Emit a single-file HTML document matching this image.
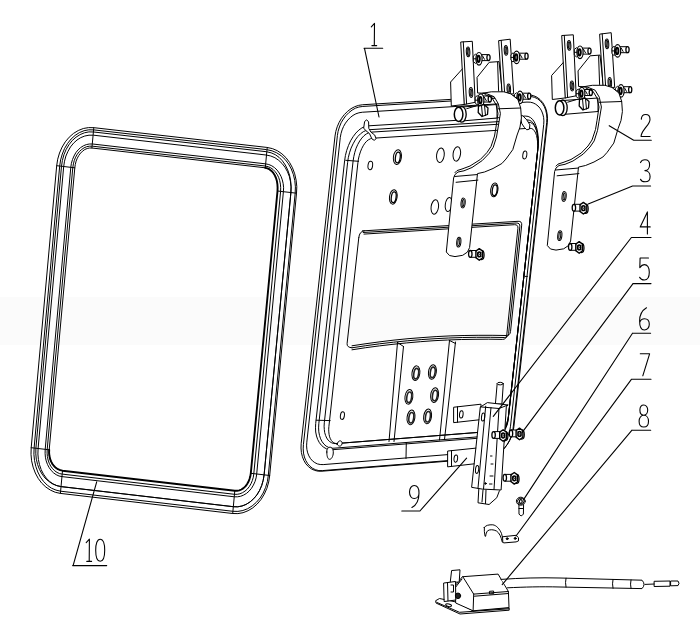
<!DOCTYPE html>
<html><head><meta charset="utf-8"><style>
html,body{margin:0;padding:0;background:#fff;}
body{width:700px;height:642px;overflow:hidden;position:relative;}
svg{position:absolute;left:0;top:0;}
</style></head><body>
<svg width="700" height="642" viewBox="0 0 700 642">
<rect x="0" y="297" width="700" height="48" fill="#fbfbfb"/>
<g fill="none" stroke="#000" stroke-width="1" stroke-linejoin="round" stroke-linecap="round">
<g id="f10"><path d="M267.2,147.5 L272.4,148.6 L277.3,150.7 L281.9,153.8 L286.0,157.7 L289.6,162.5 L292.5,167.9 L294.7,173.8 L296.1,180.1 L296.8,186.6 L296.5,193.2 L269.7,475.5 L268.7,482.0 L266.9,488.3 L264.3,494.1 L261.1,499.4 L257.2,504.0 L252.9,507.8 L248.1,510.7 L243.1,512.7 L237.9,513.6 L232.7,513.5 L60.4,493.4 L55.3,492.3 L50.4,490.1 L45.9,487.1 L41.7,483.1 L38.2,478.4 L35.3,473.0 L33.1,467.1 L31.6,460.8 L31.0,454.3 L31.2,447.7 L56.7,165.7 L57.7,159.2 L59.5,153.0 L62.1,147.1 L65.3,141.8 L69.2,137.2 L73.5,133.4 L78.3,130.5 L83.3,128.5 L88.5,127.6 L93.8,127.7Z" />
<path d="M267.0,149.7 L272.0,150.8 L276.7,152.8 L281.1,155.7 L285.1,159.4 L288.5,163.9 L291.3,169.0 L293.4,174.6 L294.8,180.6 L295.4,186.8 L295.2,193.0 L268.3,475.4 L267.4,481.5 L265.6,487.4 L263.2,493.0 L260.1,498.0 L256.4,502.3 L252.2,505.9 L247.7,508.7 L242.9,510.5 L237.9,511.4 L232.9,511.3 L60.6,491.2 L56.0,490.1 L51.5,488.2 L47.4,485.3 L43.6,481.5 L40.4,477.1 L37.8,472.0 L35.8,466.4 L34.5,460.4 L33.9,454.3 L34.1,448.0 L59.7,166.0 L60.6,159.9 L62.3,154.0 L64.6,148.4 L67.6,143.4 L71.1,139.0 L75.1,135.4 L79.4,132.6 L84.1,130.7 L88.8,129.8 L93.6,129.9Z" />
<path d="M266.8,151.8 L271.1,152.8 L275.2,154.6 L279.0,157.3 L282.4,160.8 L285.3,165.0 L287.7,169.9 L289.5,175.1 L290.6,180.8 L291.1,186.6 L290.9,192.5 L264.1,474.9 L263.2,480.3 L261.7,485.5 L259.6,490.4 L256.9,494.9 L253.7,498.7 L250.1,501.9 L246.1,504.4 L242.0,506.0 L237.7,506.8 L233.3,506.7 L61.1,486.6 L56.7,485.6 L52.5,483.9 L48.6,481.3 L45.0,478.0 L42.0,474.0 L39.5,469.5 L37.6,464.5 L36.3,459.2 L35.8,453.8 L35.9,448.2 L61.5,166.2 L62.4,160.4 L63.9,154.8 L66.1,149.5 L68.9,144.8 L72.2,140.6 L76.0,137.2 L80.1,134.6 L84.4,132.8 L88.9,131.9 L93.4,132.0Z" />
<path d="M266.5,155.1 L270.8,156.0 L274.9,157.7 L278.7,160.3 L282.1,163.5 L285.1,167.4 L287.5,171.8 L289.4,176.6 L290.5,181.8 L291.1,187.1 L290.9,192.5 L264.1,474.9 L263.2,480.3 L261.7,485.5 L259.6,490.4 L256.9,494.9 L253.7,498.7 L250.1,501.9 L246.1,504.4 L242.0,506.0 L237.7,506.8 L233.3,506.7 L61.1,486.6 L57.0,485.7 L53.1,483.9 L49.5,481.4 L46.3,478.1 L43.5,474.2 L41.2,469.7 L39.5,464.7 L38.4,459.5 L37.9,454.0 L38.1,448.5 L63.7,166.5 L64.5,161.2 L65.9,156.0 L68.0,151.3 L70.5,146.9 L73.6,143.1 L77.0,140.0 L80.8,137.6 L84.8,136.0 L89.0,135.2 L93.1,135.2Z" />
<path d="M265.7,163.9 L268.8,164.5 L271.8,165.8 L274.6,167.7 L277.1,170.1 L279.2,173.0 L281.0,176.3 L282.3,179.9 L283.2,183.7 L283.6,187.7 L283.4,191.7 L256.7,474.0 L256.1,477.9 L255.0,481.6 L253.4,485.1 L251.5,488.3 L249.1,491.1 L246.5,493.4 L243.6,495.1 L240.6,496.3 L237.4,496.8 L234.3,496.8 L62.0,476.6 L59.0,476.0 L56.2,474.7 L53.6,472.9 L51.2,470.5 L49.2,467.7 L47.5,464.5 L46.2,460.9 L45.4,457.2 L45.1,453.3 L45.2,449.3 L70.8,167.3 L71.4,163.3 L72.5,159.5 L74.0,156.0 L75.8,152.7 L78.1,149.9 L80.6,147.6 L83.4,145.8 L86.3,144.6 L89.3,144.0 L92.3,144.0Z" />
<path d="M265.5,166.1 L268.2,166.7 L270.7,167.8 L273.1,169.5 L275.2,171.7 L277.1,174.3 L278.6,177.3 L279.7,180.6 L280.4,184.1 L280.7,187.7 L280.6,191.4 L253.8,473.7 L253.3,477.2 L252.3,480.6 L251.0,483.7 L249.3,486.6 L247.3,489.1 L245.0,491.1 L242.5,492.7 L239.9,493.8 L237.2,494.3 L234.5,494.3 L62.2,474.1 L59.6,473.6 L57.0,472.4 L54.7,470.8 L52.6,468.7 L50.7,466.1 L49.2,463.2 L48.1,460.0 L47.4,456.6 L47.1,453.1 L47.2,449.5 L72.8,167.5 L73.4,163.9 L74.3,160.4 L75.6,157.2 L77.3,154.2 L79.3,151.6 L81.6,149.5 L84.1,147.8 L86.7,146.7 L89.4,146.2 L92.1,146.2Z" />
<path d="M62.5,470.7 L60.2,470.1 L57.9,469.2 L55.8,467.8 L54.0,466.0 L52.3,463.8 L51.0,461.4 L50.0,458.6 L49.4,455.8 L49.1,452.8 L49.2,449.8 L74.8,167.8 L75.3,164.4 L76.1,161.2 L77.3,158.2 L78.8,155.5 L80.6,153.1 L82.6,151.1 L84.8,149.5 L87.2,148.5 L89.5,148.0 L91.9,148.0 L265.3,167.8" />
<path d="M265.3,167.8 L267.5,168.4 L269.6,169.4 L271.5,170.9 L273.3,172.9 L274.8,175.3 L276.0,178.0 L276.9,181.1 L277.4,184.3 L277.6,187.6 L277.5,191.0 L250.8,473.3 L250.3,476.3 L249.5,479.1 L248.4,481.8 L247.0,484.2 L245.4,486.4 L243.5,488.1 L241.4,489.5 L239.3,490.4 L237.1,490.8 L234.8,490.8 L62.5,470.7 L60.2,470.1 L57.9,469.2 L55.8,467.8 L54.0,466.0 L52.3,463.8 L51.0,461.4 L50.0,458.6 L49.4,455.8 L49.1,452.8 L49.2,449.8" stroke-width="1.9"/>
<path d="M93.8,127.7 L91.9,148.0" />
<path d="M267.2,147.5 L265.3,167.8" />
<path d="M60.4,493.4 L62.5,470.7" />
<path d="M232.7,513.5 L234.8,490.8" />
<path d="M56.7,165.7 L74.8,167.8" />
<path d="M31.2,447.7 L49.2,449.8" />
<path d="M296.5,193.2 L277.5,191.0" />
<path d="M269.7,475.5 L250.8,473.3" /></g>
<g id="p1"><path d="M526.6,94.8 L530.3,94.9 L533.8,95.8 L537.1,97.3 L540.0,99.5 L542.6,102.4 L544.6,105.7 L546.2,109.6 L547.1,113.7 L547.5,118.2 L547.3,122.8 L513.9,426.7 L513.1,431.3 L511.7,435.9 L509.8,440.3 L507.4,444.4 L504.5,448.1 L501.3,451.3 L497.9,454.0 L494.2,456.0 L490.4,457.4 L486.6,458.1 L322.0,471.2 L318.2,471.2 L314.7,470.4 L311.4,468.9 L308.5,466.7 L305.9,463.9 L303.9,460.5 L302.4,456.7 L301.4,452.5 L301.0,448.0 L301.2,443.3 L335.0,136.1 L335.8,131.4 L337.2,126.8 L339.1,122.4 L341.5,118.3 L344.4,114.5 L347.6,111.3 L351.0,108.7 L354.7,106.7 L358.5,105.4 L362.3,104.8Z" />
<path d="M527.8,96.3 L531.2,96.5 L534.4,97.3 L537.4,98.7 L540.1,100.8 L542.4,103.5 L544.3,106.6 L545.7,110.2 L546.6,114.1 L546.9,118.2 L546.7,122.5 L513.1,428.1 L512.4,432.4 L511.1,436.7 L509.3,440.8 L507.1,444.6 L504.5,448.1 L501.6,451.1 L498.4,453.6 L495.0,455.5 L491.6,456.8 L488.1,457.4 L322.3,470.6 L318.9,470.6 L315.7,469.8 L312.7,468.4 L310.0,466.3 L307.7,463.7 L305.8,460.6 L304.4,457.0 L303.5,453.1 L303.2,448.9 L303.4,444.6 L337.4,135.6 L338.1,131.3 L339.4,127.0 L341.1,122.8 L343.4,119.0 L346.0,115.5 L348.9,112.6 L352.1,110.1 L355.4,108.2 L358.9,107.0 L362.4,106.5Z" />
<path d="M527.4,102.1 L530.3,102.2 L533.1,102.9 L535.7,104.2 L538.0,106.0 L540.0,108.2 L541.6,110.9 L542.8,114.0 L543.6,117.3 L543.9,120.9 L543.7,124.6 L510.5,426.2 L509.9,429.9 L508.8,433.6 L507.3,437.1 L505.4,440.4 L503.1,443.4 L500.6,446.0 L497.9,448.1 L494.9,449.7 L491.9,450.8 L488.9,451.3 L323.2,464.6 L320.2,464.5 L317.4,463.9 L314.8,462.6 L312.5,460.9 L310.5,458.6 L308.9,455.9 L307.7,452.9 L306.9,449.5 L306.6,445.9 L306.8,442.2 L340.3,137.3 L341.0,133.6 L342.1,129.9 L343.6,126.4 L345.5,123.1 L347.8,120.1 L350.3,117.5 L353.0,115.4 L355.9,113.8 L358.9,112.8 L361.9,112.3Z" />
<path d="M525.6,116.1 L528.1,116.4 L530.4,117.5 L532.5,119.3 L534.3,121.9 L535.8,125.2 L537.0,129.1 L537.8,133.5 L538.3,138.3 L538.3,143.4 L537.9,148.6 L508.0,420.3 L507.6,422.8 L507.0,425.2 L506.1,427.5 L505.1,429.7 L503.9,431.7 L502.5,433.3 L501.0,434.7 L499.5,435.8 L497.9,436.5 L496.3,436.8 L332.7,449.7 L329.6,449.6 L326.6,448.9 L323.9,447.4 L321.5,445.4 L319.4,442.7 L317.7,439.5 L316.5,436.0 L315.7,432.0 L315.5,427.8 L315.7,423.5 L344.6,160.9 L345.4,155.6 L346.7,150.4 L348.5,145.4 L350.6,140.8 L353.1,136.7 L355.8,133.1 L358.8,130.1 L361.9,127.9 L365.1,126.5 L368.3,125.9Z" />
<path d="M527.2,119.9 L529.3,120.2 L531.3,121.2 L533.2,123.0 L534.7,125.4 L536.1,128.5 L537.1,132.2 L537.7,136.3 L538.1,140.9 L538.1,145.6 L537.7,150.5 L508.2,418.9 L507.8,421.4 L507.2,423.8 L506.3,426.1 L505.2,428.3 L504.0,430.3 L502.7,432.0 L501.2,433.4 L499.6,434.4 L498.0,435.1 L496.4,435.4 L334.0,448.2 L331.2,448.2 L328.6,447.4 L326.1,446.1 L324.0,444.2 L322.1,441.7 L320.6,438.8 L319.5,435.4 L318.8,431.8 L318.6,427.9 L318.8,423.8 L347.6,162.7 L348.3,157.7 L349.5,152.8 L351.1,148.1 L353.1,143.8 L355.3,139.9 L357.8,136.5 L360.5,133.8 L363.3,131.7 L366.2,130.4 L369.0,129.8Z" />
<path d="M528.9,122.4 L530.7,122.6 L532.4,123.6 L534.0,125.3 L535.3,127.6 L536.4,130.5 L537.3,133.9 L537.8,137.8 L538.0,142.0 L538.0,146.5 L537.6,151.1 L508.5,416.4 L508.1,418.5 L507.5,420.7 L506.7,422.7 L505.7,424.6 L504.5,426.3 L503.1,427.8 L501.6,429.1 L500.1,430.0 L498.5,430.6 L496.9,430.9 L335.9,443.6 L333.7,443.5 L331.7,442.8 L329.8,441.7 L328.1,440.1 L326.7,438.0 L325.6,435.5 L324.7,432.6 L324.3,429.5 L324.1,426.2 L324.3,422.8 L353.1,161.0 L353.8,156.6 L354.8,152.3 L356.1,148.2 L357.8,144.4 L359.7,141.0 L361.8,138.1 L364.0,135.7 L366.4,133.9 L368.8,132.7 L371.1,132.2Z" />
<path d="M530.2,128.3 L531.8,128.6 L533.2,129.4 L534.4,130.9 L535.6,132.9 L536.5,135.4 L537.1,138.4 L537.6,141.8 L537.8,145.4 L537.7,149.3 L537.4,153.3 L508.2,418.3 L507.9,420.2 L507.4,422.0 L506.8,423.8 L505.9,425.4 L505.0,426.9 L503.9,428.1 L502.7,429.2 L501.5,430.0 L500.2,430.5 L498.9,430.8 L336.9,443.5 L335.4,443.4 L333.9,442.9 L332.6,441.9 L331.4,440.5 L330.4,438.8 L329.6,436.8 L329.1,434.4 L328.8,431.9 L328.7,429.2 L328.9,426.4 L357.9,162.8 L358.4,159.1 L359.3,155.4 L360.4,151.9 L361.7,148.7 L363.2,145.8 L364.9,143.2 L366.7,141.2 L368.6,139.7 L370.6,138.7 L372.5,138.3Z" />
<path d="M345.7,160.3 L358.6,161.3" />
<path d="M316.2,420.2 L330.2,420.6" />
<path d="M326.8,452 C326.5,448.5 328.5,446.8 330.8,447.3 C333,448 333.6,451 333.2,454 C332.6,457.5 331,459.6 329.3,459.3 C327.5,459 326.8,455.5 326.8,452 Z" fill="#fff"/>
<path d="M337.2,444.5 C337.4,442 339,440.6 340.6,440.9 C342.2,441.3 342.5,443.3 341.6,445 C340.8,446.4 338.6,446.8 337.2,444.5 Z" fill="#fff"/></g>
<g id="win"><path d="M362.4,230.9L518.1,221.3Q522.1,221.1 521.7,225.1L510.5,331.6Q510.1,335.6 506.1,335.5L492.1,335.3 L478.1,335.3 L464.1,335.5 L450.1,335.9 L436.1,336.6 L422.0,337.6 L408.0,338.7 L394.0,340.1 L380.0,341.8 L366.0,343.7 L352.0,345.8" />
<path d="M363.2,232.5L516.2,223.0Q520.2,222.8 519.8,226.8L508.6,333.6Q508.2,337.6 504.2,337.5L490.4,337.3 L476.5,337.3 L462.7,337.5 L448.8,338.0 L435.0,338.7 L421.2,339.6 L407.3,340.8 L393.5,342.2 L379.7,343.8 L365.8,345.7 L352.0,347.8" />
<path d="M364.0,234.1L514.4,224.7Q518.4,224.5 517.9,228.5L506.7,335.5Q506.3,339.5 502.3,339.4L488.6,339.2 L475.0,339.3 L461.3,339.5 L447.6,340.0 L434.0,340.7 L420.3,341.7 L406.7,342.9 L393.0,344.3 L379.3,345.9 L365.7,347.7 L352.0,349.8" />
<path d="M358.8,237.6 Q359.3,231.2 364.4,230.8 M358.8,237.6 L347.1,343.5 Q346.7,347.5 352,347.8" /></g>
<path d="M525.2,276.4 L527.4,276.4" />
<g id="chan"><path d="M397.5,342.5 L389,441.5 M403.5,346.5 L394,441.5 M397.5,342.5 L403.5,346.5" />
<path d="M449.5,340.5 L439.5,440 M455.5,342 L444.5,439.5 M449.5,340.5 L455.5,343.5" />
<path d="M406.3,443 L406,458.5" />
<ellipse cx="415.9" cy="373.2" rx="3.9" ry="7.4" transform="rotate(8 415.9 373.2)" />
<ellipse cx="416.2" cy="373.59999999999997" rx="2.4" ry="5.3" transform="rotate(8 416.2 373.59999999999997)" stroke-width="1.6" stroke="#222"/>
<ellipse cx="432.4" cy="372" rx="3.9" ry="7.4" transform="rotate(8 432.4 372)" />
<ellipse cx="432.7" cy="372.4" rx="2.4" ry="5.3" transform="rotate(8 432.7 372.4)" stroke-width="1.6" stroke="#222"/>
<ellipse cx="408.9" cy="396.8" rx="3.9" ry="7.4" transform="rotate(8 408.9 396.8)" />
<ellipse cx="409.2" cy="397.2" rx="2.4" ry="5.3" transform="rotate(8 409.2 397.2)" stroke-width="1.6" stroke="#222"/>
<ellipse cx="434.6" cy="395.1" rx="3.9" ry="7.4" transform="rotate(8 434.6 395.1)" />
<ellipse cx="434.90000000000003" cy="395.5" rx="2.4" ry="5.3" transform="rotate(8 434.90000000000003 395.5)" stroke-width="1.6" stroke="#222"/>
<ellipse cx="411" cy="417.4" rx="3.9" ry="7.4" transform="rotate(8 411 417.4)" />
<ellipse cx="411.3" cy="417.79999999999995" rx="2.4" ry="5.3" transform="rotate(8 411.3 417.79999999999995)" stroke-width="1.6" stroke="#222"/>
<ellipse cx="427.6" cy="416.4" rx="3.9" ry="7.4" transform="rotate(8 427.6 416.4)" />
<ellipse cx="427.90000000000003" cy="416.79999999999995" rx="2.4" ry="5.3" transform="rotate(8 427.90000000000003 416.79999999999995)" stroke-width="1.6" stroke="#222"/></g>
<g id="holes"><ellipse cx="370.3" cy="165.5" rx="2.3" ry="4.2" transform="rotate(8 370.3 165.5)" />
<ellipse cx="397.4" cy="157.1" rx="4" ry="7.4" transform="rotate(8 397.4 157.1)" />
<ellipse cx="397.79999999999995" cy="157.5" rx="2.4" ry="5.4" transform="rotate(8 397.79999999999995 157.5)" stroke-width="1.3"/>
<ellipse cx="440.4" cy="155.2" rx="3.8" ry="7.3" transform="rotate(8 440.4 155.2)" />
<ellipse cx="456.8" cy="153.9" rx="3.7" ry="7.3" transform="rotate(8 456.8 153.9)" />
<ellipse cx="393.3" cy="196.9" rx="3.8" ry="7.3" transform="rotate(8 393.3 196.9)" />
<ellipse cx="393.7" cy="197.3" rx="2.4" ry="5.4" transform="rotate(8 393.7 197.3)" stroke-width="1.3"/>
<ellipse cx="434.8" cy="207" rx="3.7" ry="7.2" transform="rotate(8 434.8 207)" />
<ellipse cx="494.3" cy="189.9" rx="3.6" ry="7" transform="rotate(8 494.3 189.9)" />
<ellipse cx="494.7" cy="190.3" rx="2.4" ry="5.4" transform="rotate(8 494.7 190.3)" stroke-width="1.3"/>
<ellipse cx="524.8" cy="155" rx="2" ry="4" transform="rotate(8 524.8 155)" />
<ellipse cx="342.4" cy="415.6" rx="2" ry="3.8" transform="rotate(8 342.4 415.6)" />
<ellipse cx="448.6" cy="204.5" rx="3.3" ry="7.1" transform="rotate(8 448.6 204.5)" /></g>
<g id="hooks"><path d="M363.9,126.5 L364.6,121.5 L366.7,119.8 L368.6,121.9 L368.8,128.4 L370.9,132.1 L374.7,135.0 L376.1,138.7 L374.2,140.3 L371.9,138.9 L369.5,133.6 L365.8,130.6 L363.9,128.4Z" fill="#fff"/>
<path d="M519.9,116.1 L521.8,123.6 L524.3,127.4 L526.8,129.8 L529.3,129.2 L529.9,124.9 L526.8,119.9 L523.1,116.1Z" fill="#fff"/></g>
<g id="hinge"><path d="M463.2,68.0 L450.6,82.0 L451.3,106.0 L464.6,104.4Z" fill="#fff"/>
<path d="M477.3,77.1 L489.2,62.3 L499.0,61.6 L502.5,93.9 L478.0,93.0Z" fill="#fff"/>
<path d="M497.6,62.3 L498.6,91" />
<path d="M459.4,107.2 L497.0,104.5 L497.0,118.0 L459.4,121.2Z" fill="#fff"/>
<ellipse cx="461.8" cy="114.3" rx="4.4" ry="7.8" fill="#fff" stroke-width="1.3"/>
<ellipse cx="458.6" cy="114.3" rx="4.3" ry="7.1" fill="#fff" stroke-width="1.5"/>
<path d="M466.7,108.7 L475.9,105.9" />
<path d="M461.1,42.0 L472.3,41.3 L475.2,102.3 L464.6,104.4Z" fill="#fff"/>
<path d="M463.3,41.9 L466.6,104" />
<path d="M499.0,40.6 L510.2,39.2 L513.7,93.9 L502.5,93.9Z" fill="#fff"/>
<path d="M501.2,40.4 L504.7,93.9" />
<ellipse cx="468.1" cy="51.8" rx="1.8" ry="4.9" transform="rotate(-3 468.1 51.8)" />
<ellipse cx="468.1" cy="51.8" rx="0.8" ry="3.6" transform="rotate(-3 468.1 51.8)" />
<ellipse cx="471" cy="92.5" rx="1.8" ry="4.9" transform="rotate(-3 471 92.5)" />
<ellipse cx="471" cy="92.5" rx="0.8" ry="3.6" transform="rotate(-3 471 92.5)" />
<ellipse cx="506" cy="50.4" rx="1.8" ry="4.9" transform="rotate(-3 506 50.4)" />
<ellipse cx="506" cy="50.4" rx="0.8" ry="3.6" transform="rotate(-3 506 50.4)" />
<ellipse cx="508.8" cy="89" rx="1.8" ry="4.9" transform="rotate(-3 508.8 89)" />
<ellipse cx="508.8" cy="89" rx="0.8" ry="3.6" transform="rotate(-3 508.8 89)" />
<path d="M473.6,55.8 L475.4,54.2 L477.2,55.8 L477.2,61.8 L475.4,63.4 L473.6,61.8 Z M473.6,58.8 L477.2,58.8" fill="#fff"/>
<path d="M480.0,54.6 L488.5,54.6 L488.5,60.6 L480.0,60.6" fill="#fff"/>
<ellipse cx="488.5" cy="57.599999999999994" rx="1.6" ry="3.0" fill="#fff" stroke-width="1.3"/>
<path d="M482.5,55.8 L484.5,59.3"/>
<ellipse cx="479" cy="58.8" rx="3.1" ry="6.3" fill="#fff" stroke-width="1.2"/>
<ellipse cx="478.5" cy="58.8" rx="1.3" ry="3.2" stroke-width="1.9"/>
<path d="M511.2,54.4 L513.0,52.8 L514.8,54.4 L514.8,60.4 L513.0,62.0 L511.2,60.4 Z M511.2,57.4 L514.8,57.4" fill="#fff"/>
<path d="M517.6,53.2 L526.5,53.2 L526.5,59.2 L517.6,59.2" fill="#fff"/>
<ellipse cx="526.5" cy="56.199999999999996" rx="1.6" ry="3.0" fill="#fff" stroke-width="1.3"/>
<path d="M520.1,54.4 L522.1,57.9"/>
<ellipse cx="516.6" cy="57.4" rx="3.1" ry="6.3" fill="#fff" stroke-width="1.2"/>
<ellipse cx="516.1" cy="57.4" rx="1.3" ry="3.2" stroke-width="1.9"/>
<path d="M514.6,94.4 L516.4,92.8 L518.2,94.4 L518.2,100.4 L516.4,102.0 L514.6,100.4 Z M514.6,97.4 L518.2,97.4" fill="#fff"/>
<path d="M521.0,93.2 L529.2,93.2 L529.2,99.2 L521.0,99.2" fill="#fff"/>
<ellipse cx="529.2" cy="96.2" rx="1.6" ry="3.0" fill="#fff" stroke-width="1.3"/>
<path d="M523.5,94.4 L525.5,97.9"/>
<ellipse cx="520" cy="97.4" rx="3.1" ry="6.3" fill="#fff" stroke-width="1.2"/>
<ellipse cx="519.5" cy="97.4" rx="1.3" ry="3.2" stroke-width="1.9"/>
<path d="M475.4,97.2 L477.2,95.6 L479.0,97.2 L479.0,103.2 L477.2,104.8 L475.4,103.2 Z M475.4,100.2 L479.0,100.2" fill="#fff"/>
<path d="M481.8,96.0 L489.8,96.0 L489.8,102.0 L481.8,102.0" fill="#fff"/>
<ellipse cx="489.8" cy="99.0" rx="1.6" ry="3.0" fill="#fff" stroke-width="1.3"/>
<path d="M484.3,97.2 L486.3,100.7"/>
<ellipse cx="480.8" cy="100.2" rx="3.1" ry="6.3" fill="#fff" stroke-width="1.2"/>
<ellipse cx="480.3" cy="100.2" rx="1.3" ry="3.2" stroke-width="1.9"/>
<path d="M478.5,106.0 L484.0,104.5 L488.0,108.0 L487.5,114.5 L482.0,116.5 L478.2,112.5Z" fill="#fff" stroke-width="1.3"/>
<path d="M481.5,105.5 L482.5,116 M484.5,105.2 L485.5,115.5" />
<path d="M482.9,93.2 L491.3,91.8 L503.9,91.8 L510.9,93.9 L517.9,99.5 L520.7,107.9 L521.4,118.0 L520.0,127.0 L517.1,135.0 L512.8,149.6 L506.0,159.0 L501.9,163.5 L493.0,168.5 L484.5,172.0 L477.5,173.6 L476.8,180.1 L469.6,247.5 L467.5,252.0 L462.7,255.3 L455.0,256.6 L449.5,255.5 L446.3,252.0 L453.6,178.0 L455.0,174.5 L458.0,172.0 L464.0,170.8 L472.0,167.5 L482.3,160.5 L489.0,153.5 L493.2,147.4 L496.5,137.0 L498.0,128.0 L500.4,113.5 L498.3,103.7 L494.1,96.7 L487.1,93.9Z" fill="#fff"/>
<path d="M485,94.6 L491.8,97.6 L496,104.5 L498,113.5 L496,127 L494.5,136 L491,146.5 L487,152.5 L480.3,159.5 L470,166 L462,169 L457,170.6 L455,172.6" />
<path d="M454.6,176.5 L476.7,174.6 M456.1,182.3 L477.9,180.1" />
<path d="M498.3,108.8 L520.6,108" />
<ellipse cx="463.1" cy="203" rx="2.1" ry="4.9" transform="rotate(6 463.1 203)" />
<ellipse cx="463.1" cy="203" rx="0.9" ry="3.6" transform="rotate(6 463.1 203)" />
<ellipse cx="458.8" cy="242.2" rx="2.1" ry="4.9" transform="rotate(6 458.8 242.2)" />
<ellipse cx="458.8" cy="242.2" rx="0.9" ry="3.6" transform="rotate(6 458.8 242.2)" /></g>
<use href="#hinge" transform="translate(101 -6.5)"/>
<path d="M479.3,250.5 L470.3,250.5 L470.3,257.3 L479.3,257.3" fill="#fff"/>
<ellipse cx="470.3" cy="253.9" rx="1.7" ry="3.4" fill="#fff" stroke-width="1.3"/>
<ellipse cx="481.5" cy="255.0" rx="2.6" ry="4.6" fill="#fff" stroke-width="1.2"/>
<path d="M479.3,248.6 L482.7,251.2 L482.7,257.8 L479.3,260.2 L475.9,257.6 L475.9,251.0Z" fill="#fff" stroke-width="1.4"/>
<path d="M475.9,251.0 L482.7,257.8 M482.7,251.2 L475.9,257.6" stroke-width="0.6"/>
<ellipse cx="479.3" cy="254.4" rx="1.6" ry="2.4" stroke-width="1.5"/>
<path d="M579.2,243.5 L570.2,243.5 L570.2,250.3 L579.2,250.3" fill="#fff"/>
<ellipse cx="570.2" cy="246.9" rx="1.7" ry="3.4" fill="#fff" stroke-width="1.3"/>
<ellipse cx="581.4000000000001" cy="248.0" rx="2.6" ry="4.6" fill="#fff" stroke-width="1.2"/>
<path d="M579.2,241.6 L582.6,244.2 L582.6,250.8 L579.2,253.2 L575.8,250.6 L575.8,244.0Z" fill="#fff" stroke-width="1.4"/>
<path d="M575.8,244.0 L582.6,250.8 M582.6,244.2 L575.8,250.6" stroke-width="0.6"/>
<ellipse cx="579.2" cy="247.4" rx="1.6" ry="2.4" stroke-width="1.5"/>
<path d="M583.4,204.3 L573.9,204.3 L573.9,211.1 L583.4,211.1" fill="#fff"/>
<ellipse cx="573.9" cy="207.7" rx="1.7" ry="3.4" fill="#fff" stroke-width="1.3"/>
<ellipse cx="585.6" cy="208.79999999999998" rx="2.6" ry="4.6" fill="#fff" stroke-width="1.2"/>
<path d="M583.4,202.4 L586.8,205.0 L586.8,211.6 L583.4,214.0 L580.0,211.4 L580.0,204.8Z" fill="#fff" stroke-width="1.4"/>
<path d="M580.0,204.8 L586.8,211.6 M586.8,205.0 L580.0,211.4" stroke-width="0.6"/>
<ellipse cx="583.4" cy="208.2" rx="1.6" ry="2.4" stroke-width="1.5"/>
<g id="p9"><path d="M454.0,407.2 L481.0,404.2 L481.0,419.6 L454.0,422.6Z" fill="#fff"/>
<path d="M457.5,406.8 L457.5,422.2" />
<ellipse cx="461.3" cy="414.4" rx="1.8" ry="3.6" transform="rotate(6 461.3 414.4)" />
<path d="M448.0,451.0 L477.0,448.0 L477.0,463.5 L448.0,466.8Z" fill="#fff"/>
<path d="M451.5,450.6 L451.5,466.4" />
<ellipse cx="455.8" cy="458.6" rx="1.8" ry="3.6" transform="rotate(6 455.8 458.6)" /></g>
<g id="l4"><path d="M497.2,383.5 L495.4,404.0 L501.9,404.0 L503.3,384.0" fill="#fff"/>
<ellipse cx="500.2" cy="383.6" rx="3.0" ry="1.3" fill="#fff"/>
<path d="M480.6,406.9 L487.4,402.6 L508.0,405.0 L506.3,406.9 L501.1,490.0 L482.3,489.1 L472.0,487.4Z" fill="#fff"/>
<path d="M480.6,406.9 L499,408.5 L508,405 M485.7,406.2 L478,488.2 M491,407.5 L483.5,489 M499,408.5 L494,489.6" />
<path d="M478.8,489.1 L478,502.8 L489.1,504.5 L496.8,497.7 L499.4,490.8 M483,490 L482,502 M486,490 L485.5,503.5" />
<ellipse cx="483.1" cy="417.1" rx="1.6" ry="4" transform="rotate(6 483.1 417.1)" />
<ellipse cx="477.1" cy="469.4" rx="1.6" ry="4" transform="rotate(6 477.1 469.4)" />
<path d="M491,464 L493,464 M490,476 L493,476 M489.5,484 L492,484 M490.5,456 L492,456" />
<ellipse cx="485.5" cy="483.5" rx="0.8" ry="0.8" fill="#000"/></g>
<path d="M503.1,431.6 L493.6,431.6 L493.6,438.4 L503.1,438.4" fill="#fff"/>
<ellipse cx="493.6" cy="435.0" rx="1.7" ry="3.4" fill="#fff" stroke-width="1.3"/>
<ellipse cx="505.3" cy="436.1" rx="2.6" ry="4.6" fill="#fff" stroke-width="1.2"/>
<path d="M503.1,429.7 L506.5,432.3 L506.5,438.9 L503.1,441.3 L499.7,438.7 L499.7,432.1Z" fill="#fff" stroke-width="1.4"/>
<path d="M499.7,432.1 L506.5,438.9 M506.5,432.3 L499.7,438.7" stroke-width="0.6"/>
<ellipse cx="503.1" cy="435.5" rx="1.6" ry="2.4" stroke-width="1.5"/>
<path d="M519.5,430.0 L511.0,430.0 L511.0,436.8 L519.5,436.8" fill="#fff"/>
<ellipse cx="511.0" cy="433.4" rx="1.7" ry="3.4" fill="#fff" stroke-width="1.3"/>
<ellipse cx="521.7" cy="434.5" rx="2.6" ry="4.6" fill="#fff" stroke-width="1.2"/>
<path d="M519.5,428.1 L522.9,430.7 L522.9,437.3 L519.5,439.7 L516.1,437.1 L516.1,430.5Z" fill="#fff" stroke-width="1.4"/>
<path d="M516.1,430.5 L522.9,437.3 M522.9,430.7 L516.1,437.1" stroke-width="0.6"/>
<ellipse cx="519.5" cy="433.9" rx="1.6" ry="2.4" stroke-width="1.5"/>
<path d="M514.3,474.4 L504.8,474.4 L504.8,481.2 L514.3,481.2" fill="#fff"/>
<ellipse cx="504.79999999999995" cy="477.8" rx="1.7" ry="3.4" fill="#fff" stroke-width="1.3"/>
<ellipse cx="516.5" cy="478.90000000000003" rx="2.6" ry="4.6" fill="#fff" stroke-width="1.2"/>
<path d="M514.3,472.5 L517.7,475.1 L517.7,481.7 L514.3,484.1 L510.9,481.5 L510.9,474.9Z" fill="#fff" stroke-width="1.4"/>
<path d="M510.9,474.9 L517.7,481.7 M517.7,475.1 L510.9,481.5" stroke-width="0.6"/>
<ellipse cx="514.3" cy="478.3" rx="1.6" ry="2.4" stroke-width="1.5"/>
<path d="M518.9,504 L519,514 Q521.2,517.5 523.4,514 L523.6,504" fill="#fff"/>
<path d="M519,508.5 L523.5,508.5" />
<ellipse cx="520.8" cy="501.2" rx="4.4" ry="4.0" fill="#fff"/>
<path d="M524.2,501.2 L522.5,504.1 L519.1,504.1 L517.4,501.2 L519.1,498.3 L522.5,498.3Z" fill="#fff"/>
<ellipse cx="520.8" cy="501.5" rx="1.4" ry="1.8" stroke-width="1.2"/>
<path d="M484.3,527.4 C485.5,525.3 489,524.6 492.8,524.8 C496.5,525.3 499.6,529 501.5,533.5 L502.3,536.8 L516.1,535.3 L518.5,537.7 L518.5,540.9 L516.1,541.9 L504,542.9 L502.3,542.2 C501.2,537 499.5,533 496.5,531 C493.5,529.4 489.5,529.3 487.6,530.8 C486.5,532 486,534 485.6,536.3 L485.1,536.3 C484.4,533.5 484.1,530 484.3,527.4 Z" fill="#fff"/>
<path d="M502.5,536.8 L502.8,541.5" />
<ellipse cx="507.2" cy="538.7" rx="1.0" ry="0.9" fill="#000"/>
<ellipse cx="515.2" cy="538.4" rx="1.0" ry="0.9" fill="#000"/>
<path d="M436,600.5 L439.5,598.5 L456,602 L473.1,610.8 L509,607.6 L509.2,610.2 L460,614 L436.4,603.2 Z" fill="#fff"/>
<path d="M437,602.5 L459.5,612.3 L509,608.8" />
<ellipse cx="448.6" cy="605.2" rx="3" ry="1.3" transform="rotate(15 448.6 605.2)" />
<path d="M462.8,576.7 L498.1,574.1 L508.4,591.5 L509,607.6 L473.1,610.8 L455.7,603 L455,586.4 Z" fill="#fff"/>
<path d="M462.8,576.7 L473.7,594.1 L508.4,591.5 M473.7,594.1 L473.1,610.8 M474.5,596.2 L508.5,593.5 M462,579 L456,586.7" />
<path d="M489.8,591.3 L493.6,591 L493.7,593.6 L489.9,593.9 Z" />
<path d="M452,570.5 L460,569.8 L459.2,582 L450.6,582.5 Z" fill="#fff"/>
<path d="M444,583 L455.5,581.5 L455.8,600 L444.5,601.5 Z" fill="#fff"/>
<path d="M447.5,582.6 L448,601 M451,585 L453.5,585 L453.5,592 L451,592" />
<ellipse cx="458" cy="595.8" rx="2.6" ry="2.8" fill="#222"/>
<path d="M501,579.4 C520,578 540,577.5 560,578 L642,580.2 Q646,584.4 642,588.6 L560,587 C540,586.5 525,587 507.5,587.8" fill="#fff"/>
<path d="M566,578.2 Q565,582.6 566,587.1 M613,579.4 Q612,583.8 613,588.3 M631,579.9 Q630,584.2 631,588.3" />
<path d="M645,584.4 L655,584" />
<path d="M654.5,581.3 L670,581 L670,586.2 L654.5,586.5 Z M671,581 L678,581 Q680,583.3 678,585.6 L671,585.8 Z" fill="#fff"/>
<g id="labels" stroke-width="1.1"><path d="M364,48.3 L382.7,48.3 M364.5,48.3 L379,117" />
<path d="M633.7,140.2 L651.3,140.2 M633.7,140.2 L609.2,125.7" />
<path d="M632.6,186 L650.6,186 M632.6,186 L588.2,204" />
<path d="M631.4,237.5 L651,237.5 M631.4,237.5 L493.3,416.4" />
<path d="M633,283.6 L651,283.6 M633,283.6 L522.2,432.3" />
<path d="M632.5,333.2 L650.6,333.2 M632.5,333.2 L523.4,499.9" />
<path d="M631.4,379.3 L651,379.3 M631.4,379.3 L516,536" />
<path d="M632,430.2 L650.7,430.2 M632,430.2 L502.2,584.6" />
<path d="M401.8,511 L419.9,511 M419.9,511 L466.6,458.1" />
<path d="M72.6,565.6 L106.7,565.6 M73.1,565.6 L96.7,481.9" />
<path transform="translate(369.3 23.4) scale(1.0 1.0)" vector-effect="non-scaling-stroke" d="M2,3.4 L5.2,0 L5,22.2 M2.6,22.2 L7.4,22.2"/>
<path transform="translate(640.5 114.5) scale(1.0 1.0)" vector-effect="non-scaling-stroke" d="M0.8,4.6 C1,1.6 2.8,0 5.2,0 C7.8,0 9.5,1.9 9.5,4.9 C9.5,8.2 7,10.6 4,14.6 C2,17.2 0.6,19.4 0.6,22 L9.6,22"/>
<path transform="translate(640.3 159.8) scale(1.0 1.0)" vector-effect="non-scaling-stroke" d="M0.2,2.8 C1,0.9 2.7,0 4.7,0 C7.3,0 9.3,1.8 9.3,5 C9.3,8.2 7.4,10.8 4.6,10.8 M4.6,10.8 C7.6,10.8 9.8,13.3 9.8,16.6 C9.8,20 7.6,22 4.8,22 C2.7,22 0.9,21.2 0.2,19.4"/>
<path transform="translate(640.2 211.9) scale(1.0 1.0)" vector-effect="non-scaling-stroke" d="M7.2,22 L7.2,0 L0,15 L10,15"/>
<path transform="translate(639.3 258) scale(1.0 1.0)" vector-effect="non-scaling-stroke" d="M9.2,0 L0.8,0 L0.5,9.6 C1.8,7.7 3.2,6.6 5,6.6 C8,6.6 10,9.2 10,14.3 C10,19.5 7.8,22 5,22 C2.9,22 1.1,20.9 0.3,19.2"/>
<path transform="translate(639.3 307.8) scale(1.0 1.0)" vector-effect="non-scaling-stroke" d="M7.2,0 C3,2.5 0.3,6.5 0.3,13.2 C0.3,19 2.3,22.2 5,22.2 C8,22.2 10,19.8 10,16.5 C10,13.2 8,11 5.2,11 C3,11 1.2,12.4 0.5,14.5"/>
<path transform="translate(639.8 353.8) scale(1.0 1.0)" vector-effect="non-scaling-stroke" d="M0.5,0 L9.8,0 L3,22"/>
<path transform="translate(638.8 405) scale(1.0 1.0)" vector-effect="non-scaling-stroke" d="M5,0 C2.6,0 1.1,2.2 1.1,5.1 C1.1,8 2.6,10.3 5,10.3 C7.4,10.3 8.9,8 8.9,5.1 C8.9,2.2 7.4,0 5,0Z M5,10.3 C2.2,10.3 0.3,12.8 0.3,16.2 C0.3,19.6 2.2,22 5,22 C7.8,22 9.7,19.6 9.7,16.2 C9.7,12.8 7.8,10.3 5,10.3Z"/>
<path transform="translate(409.2 485.5) scale(1.0 1.0)" vector-effect="non-scaling-stroke" d="M9.8,7.5 C9.8,10.7 7.8,13 5,13 C2.2,13 0.3,10.5 0.3,6.6 C0.3,2.7 2.3,0 5,0 C7.9,0 9.8,2.8 9.8,7.5 C9.8,14 7.5,19.5 2.7,22"/>
<path transform="translate(84.2 539.2) scale(1.0 1.0)" vector-effect="non-scaling-stroke" d="M2,3.4 L5.2,0 L5,22.2 M2.6,22.2 L7.4,22.2"/>
<path transform="translate(95.2 539.2) scale(1.0 1.0)" vector-effect="non-scaling-stroke" d="M5,0 C2,0 0.5,4.5 0.5,11 C0.5,17.5 2,22 5,22 C8,22 9.5,17.5 9.5,11 C9.5,4.5 8,0 5,0Z"/></g>
</g>
</svg>
</body></html>
